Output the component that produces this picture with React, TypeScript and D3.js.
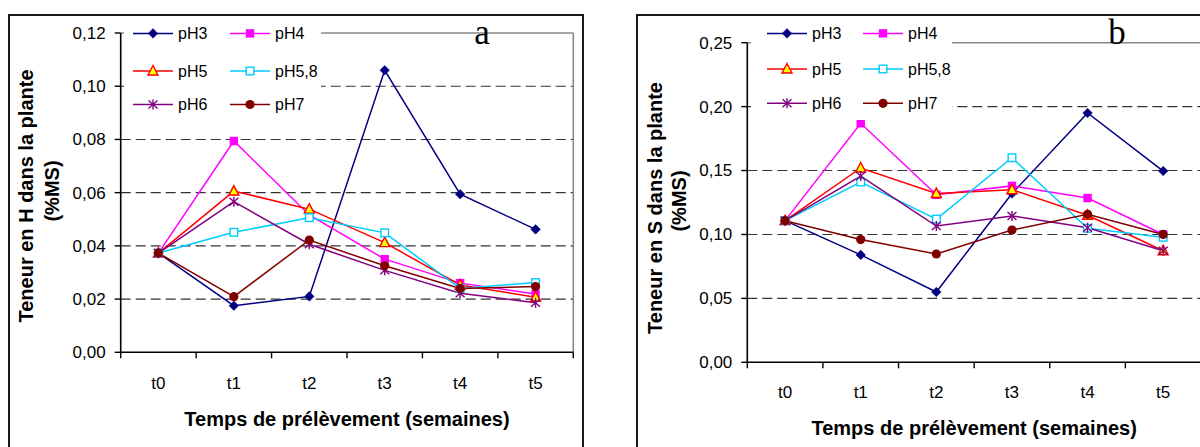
import React from "react";
import * as d3 from "d3";

const categories = ["t0", "t1", "t2", "t3", "t4", "t5"];
const seriesNames = ["pH3", "pH4", "pH5", "pH5,8", "pH6", "pH7"];
const seriesColors = ["#000080", "#FF00FF", "#FF0000", "#00CCFF", "#800080", "#800000"];
const markerKinds = ["diamond", "square", "triangle", "openSquare", "star", "circle"];

// Chart a : Teneur en H (%MS)
const hPH3 = [0.0373, 0.0175, 0.021, 0.106, 0.0594, 0.0462];
const hPH4 = [0.0373, 0.0794, 0.0516, 0.035, 0.026, 0.0219];
const hPH5 = [0.0373, 0.0606, 0.0538, 0.0412, 0.0253, 0.0207];
const hPH58 = [0.0373, 0.0451, 0.0506, 0.0449, 0.024, 0.0262];
const hPH6 = [0.0373, 0.0566, 0.0406, 0.0308, 0.0222, 0.0186];
const hPH7 = [0.0373, 0.0209, 0.0422, 0.0325, 0.024, 0.0247];
const hTicks = [0, 0.02, 0.04, 0.06, 0.08, 0.1, 0.12];

// Chart b : Teneur en S (%MS)
const sPH3 = [0.1108, 0.084, 0.055, 0.132, 0.195, 0.1496];
const sPH4 = [0.1108, 0.187, 0.131, 0.138, 0.1285, 0.1];
const sPH5 = [0.1108, 0.152, 0.132, 0.135, 0.115, 0.0873];
const sPH58 = [0.1108, 0.141, 0.112, 0.16, 0.1048, 0.0978];
const sPH6 = [0.1108, 0.1457, 0.1066, 0.1145, 0.1053, 0.0873];
const sPH7 = [0.1108, 0.096, 0.0847, 0.1035, 0.1158, 0.1];
const sTicks = [0, 0.05, 0.1, 0.15, 0.2, 0.25];

const hSeries = [hPH3, hPH4, hPH5, hPH58, hPH6, hPH7];
const sSeries = [sPH3, sPH4, sPH5, sPH58, sPH6, sPH7];

const FONT = "'Liberation Sans', Arial, Helvetica, sans-serif";
const fmt = (v: number) => d3.format(".2f")(v).replace(".", ",");

function Marker({ kind, x, y, color }: { kind: string; x: number; y: number; color: string }) {
  const t = `translate(${x},${y})`;
  switch (kind) {
    case "diamond":
      return <path transform={t} d="M0,-4.8L4.8,0L0,4.8L-4.8,0Z" fill={color} stroke={color} strokeWidth={0.5} />;
    case "square":
      return <rect transform={t} x={-4.2} y={-4.2} width={8.4} height={8.4} fill={color} />;
    case "triangle":
      return <path transform={t} d="M0,-5.5L5,4L-5,4Z" fill="#FFFF00" stroke="#FF0000" strokeWidth={1.4} />;
    case "openSquare":
      return <rect transform={t} x={-3.8} y={-3.8} width={7.6} height={7.6} fill="#FFFFFF" stroke={color} strokeWidth={1.4} />;
    case "star":
      return (
        <g transform={t} stroke={color} strokeWidth={1.4}>
          <line x1={0} y1={-5} x2={0} y2={5} />
          <line x1={-4.5} y1={-4} x2={4.5} y2={4} />
          <line x1={-4.5} y1={4} x2={4.5} y2={-4} />
        </g>
      );
    default:
      return <circle transform={t} r={4.6} fill={color} />;
  }
}

type Cfg = {
  frame: [number, number, number, number];
  left: number;
  right: number;
  top: number;
  bottom: number;
  ticks: number[];
  series: number[][];
  yTitle: string;
  yTitleX: [number, number];
  yTitleY: [number, number];
  xTitleY: number;
  tickLabelY: number;
  letter: string;
  letterX: number;
  legendBox: [number, number, number, number];
  legendCols: [number, number];
  legendRows: number[];
};

function Chart({ cfg }: { cfg: Cfg }) {
  const x = d3.scaleBand<string>().domain(categories).range([cfg.left, cfg.right]);
  const yMax = cfg.ticks[cfg.ticks.length - 1];
  const y = d3.scaleLinear().domain([0, yMax]).range([cfg.bottom, cfg.top]);
  const cx = (c: string) => (x(c) as number) + x.bandwidth() / 2;
  const line = d3
    .line<number>()
    .x((_, i) => cx(categories[i]))
    .y((d) => y(d));
  const [fx0, fy0, fx1, fy1] = cfg.frame;
  const [lbx0, lby0, lbx1, lby1] = cfg.legendBox;
  const boundaries = categories.map((c) => x(c) as number).concat([cfg.right]);
  return (
    <g>
      <rect x={fx0} y={fy0} width={fx1 - fx0} height={fy1 - fy0} fill="#FFFFFF" stroke="#000" strokeWidth={1.8} />
      {/* gridlines */}
      {cfg.ticks
        .filter((t) => t > 0 && t < yMax)
        .map((t) => (
          <line key={"g" + t} x1={cfg.left} x2={cfg.right} y1={y(t)} y2={y(t)} stroke="#333" strokeWidth={1.1} strokeDasharray="10,5" />
        ))}
      {/* plot border */}
      <line x1={cfg.left} x2={cfg.right} y1={y(yMax)} y2={y(yMax)} stroke="#888" strokeWidth={1.6} />
      <line x1={cfg.right} x2={cfg.right} y1={y(yMax)} y2={cfg.bottom} stroke="#888" strokeWidth={1.6} />
      {/* series */}
      {cfg.series.map((vals, si) => (
        <path key={"l" + si} d={line(vals) || ""} fill="none" stroke={seriesColors[si]} strokeWidth={1.5} />
      ))}
      {cfg.series.map((vals, si) =>
        vals.map((v, i) => (
          <Marker key={"m" + si + "-" + i} kind={markerKinds[si]} x={cx(categories[i])} y={y(v)} color={seriesColors[si]} />
        ))
      )}
      {/* legend */}
      <rect x={lbx0} y={lby0} width={lbx1 - lbx0} height={lby1 - lby0} fill="#FFFFFF" />
      {seriesNames.map((name, si) => {
        const col = si % 2;
        const row = Math.floor(si / 2);
        const lx = cfg.legendCols[col];
        const ly = cfg.legendRows[row];
        return (
          <g key={"lg" + si}>
            <line x1={lx} x2={lx + 40} y1={ly} y2={ly} stroke={seriesColors[si]} strokeWidth={1.5} />
            <Marker kind={markerKinds[si]} x={lx + 20} y={ly} color={seriesColors[si]} />
            <text x={lx + 45} y={ly} dy="0.35em" fontSize={16} fontFamily={FONT} fill="#000">
              {name}
            </text>
          </g>
        );
      })}
      {/* y axis */}
      <line x1={cfg.left} x2={cfg.left} y1={y(yMax)} y2={cfg.bottom} stroke="#000" strokeWidth={1.6} />
      {cfg.ticks.map((t) => (
        <g key={"yt" + t}>
          <line x1={cfg.left - 6} x2={cfg.left} y1={y(t)} y2={y(t)} stroke="#000" strokeWidth={1.4} />
          <text x={cfg.left - 15} y={y(t)} dy="0.35em" textAnchor="end" fontSize={17} fontFamily={FONT} fill="#000">
            {fmt(t)}
          </text>
        </g>
      ))}
      {/* x axis */}
      <line x1={cfg.left} x2={cfg.right} y1={cfg.bottom} y2={cfg.bottom} stroke="#000" strokeWidth={1.6} />
      {boundaries.map((b, i) => (
        <line key={"xt" + i} x1={b} x2={b} y1={cfg.bottom} y2={cfg.bottom + 6} stroke="#000" strokeWidth={1.4} />
      ))}
      {categories.map((c) => (
        <text key={"xl" + c} x={cx(c)} y={cfg.tickLabelY} textAnchor="middle" fontSize={17} fontFamily={FONT} fill="#000">
          {c}
        </text>
      ))}
      {/* titles */}
      <text
        x={(cfg.left + cfg.right) / 2}
        y={cfg.xTitleY}
        textAnchor="middle"
        fontSize={20}
        fontWeight="bold"
        fontFamily={FONT}
        fill="#000"
      >
        Temps de prélèvement (semaines)
      </text>
      <text
        transform={`translate(${cfg.yTitleX[0]},${cfg.yTitleY[0]}) rotate(-90)`}
        textAnchor="middle"
        fontSize={20}
        fontWeight="bold"
        fontFamily={FONT}
        fill="#000"
      >
        {cfg.yTitle}
      </text>
      <text
        transform={`translate(${cfg.yTitleX[1]},${cfg.yTitleY[1]}) rotate(-90)`}
        textAnchor="middle"
        fontSize={20}
        fontWeight="bold"
        fontFamily={FONT}
        fill="#000"
      >
        (%MS)
      </text>
      <text x={cfg.letterX} y={43.5} textAnchor="middle" fontSize={35} fontFamily="'Liberation Serif', 'Times New Roman', serif" fill="#000">
        {cfg.letter}
      </text>
    </g>
  );
}

const cfgA: Cfg = {
  frame: [9, 15, 583, 470],
  left: 120.7,
  right: 573.3,
  top: 33,
  bottom: 352.3,
  ticks: hTicks,
  series: hSeries,
  yTitle: "Teneur en H dans la plante",
  yTitleX: [33, 59],
  yTitleY: [196, 191],
  xTitleY: 426,
  tickLabelY: 389,
  letter: "a",
  letterX: 482,
  legendBox: [124, 20, 321, 122],
  legendCols: [133, 230],
  legendRows: [33.4, 71, 104.5],
};

const cfgB: Cfg = {
  frame: [637, 15, 1220, 470],
  left: 747.3,
  right: 1201,
  top: 42.7,
  bottom: 362.3,
  ticks: sTicks,
  series: sSeries,
  yTitle: "Teneur en S dans la plante",
  yTitleX: [662, 686],
  yTitleY: [208, 201],
  xTitleY: 435,
  tickLabelY: 398,
  letter: "b",
  letterX: 1117,
  legendBox: [751, 20, 952, 120],
  legendCols: [767, 863],
  legendRows: [33.4, 69, 103.3],
};

export default function App() {
  return (
    <svg
      width={1200}
      height={447}
      viewBox="0 0 1200 447"
      style={{ position: "absolute", left: 0, top: 0, display: "block", background: "#fff" }}
    >
      <rect x={0} y={0} width={1200} height={447} fill="#FFFFFF" />
      <Chart cfg={cfgA} />
      <Chart cfg={cfgB} />
    </svg>
  );
}
